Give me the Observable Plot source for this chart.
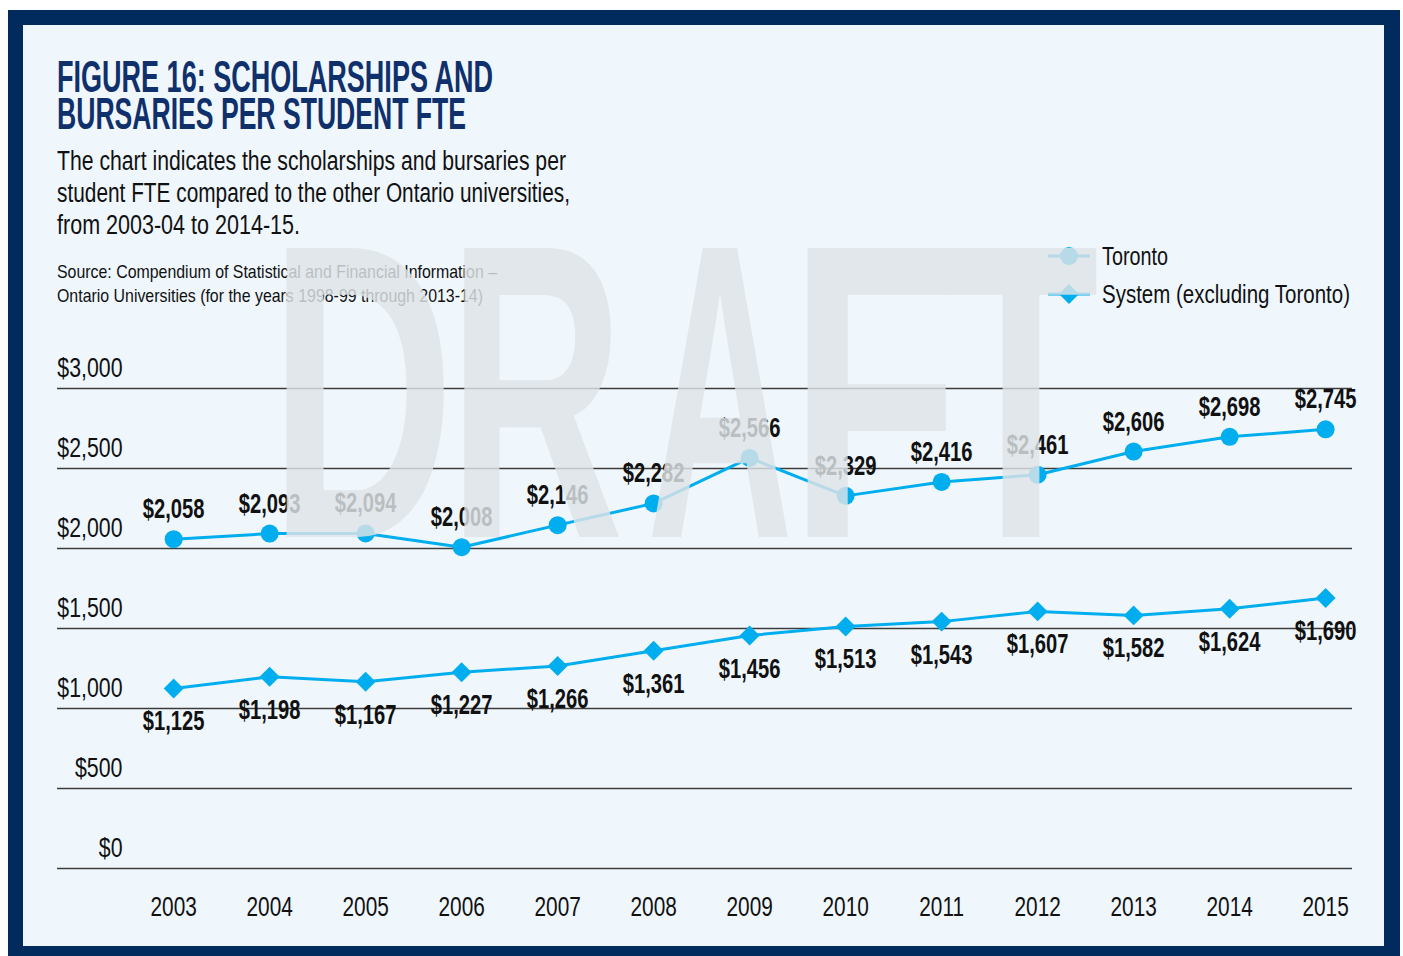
<!DOCTYPE html>
<html>
<head>
<meta charset="utf-8">
<script src="https://cdn.jsdelivr.net/npm/d3@7"></script>
<script src="https://cdn.jsdelivr.net/npm/@observablehq/plot@0.6"></script>
<style>
  html, body { margin: 0; padding: 0; background: #ffffff; }
  #page { position: relative; width: 1403px; height: 956px; overflow: hidden; background: #ffffff;
          font-family: "Liberation Sans", Arial, sans-serif; }
  #frame { position: absolute; left: 8px; top: 10px; width: 1392px; height: 960px; background: #002b5c; }
  #card { position: absolute; left: 23px; top: 25px; width: 1361px; height: 921px; background: #eff7fd; }
  #chart { position: absolute; left: 0; top: 330px; }
  svg.layer { position: absolute; left: 0; top: 0; pointer-events: none; }
</style>
</head>
<body>
<div id="page">
  <div id="frame"></div>
  <div id="card"></div>
  <svg id="header" class="layer" width="1403" height="956"></svg>
  <div id="chart"></div>
  <svg id="watermark" class="layer" width="1403" height="956"></svg>
</div>
<script>
// ---------- data ----------
const years = [2003, 2004, 2005, 2006, 2007, 2008, 2009, 2010, 2011, 2012, 2013, 2014, 2015];
const toronto = [2058, 2093, 2094, 2008, 2146, 2282, 2566, 2329, 2416, 2461, 2606, 2698, 2745];
const systemExTo = [1125, 1198, 1167, 1227, 1266, 1361, 1456, 1513, 1543, 1607, 1582, 1624, 1690];
const yTicks = [0, 500, 1000, 1500, 2000, 2500, 3000];
const seriesNames = ["Toronto", "System (excluding Toronto)"];

const titleLines = ["FIGURE 16: SCHOLARSHIPS AND", "BURSARIES PER STUDENT FTE"];
const subtitleLines = [
  "The chart indicates the scholarships and bursaries per",
  "student FTE compared to the other Ontario universities,",
  "from 2003-04 to 2014-15."
];
const sourceLines = [
  "Source: Compendium of Statistical and Financial Information \u2013",
  "Ontario Universities (for the years 1998-99 through 2013-14)"
];
const watermarkLetters = ["D", "R", "A", "F", "T"];

const blue = "#00aeef";
const FONT = '"Liberation Sans", Arial, sans-serif';
const money = v => "$" + d3.format(",")(v);

const topData = years.map((year, i) => ({year, value: toronto[i]}));
const sysData = years.map((year, i) => ({year, value: systemExTo[i]}));

// ---------- header (title, subtitle, source, legend) ----------
const NS = "http://www.w3.org/2000/svg";
const header = document.getElementById("header");
function addText(svg, str, x, y, size, opts = {}) {
  const t = document.createElementNS(NS, "text");
  t.setAttribute("x", x);
  t.setAttribute("y", y);
  t.setAttribute("font-size", size);
  t.setAttribute("font-family", FONT);
  t.setAttribute("fill", opts.fill || "#111");
  if (opts.weight) t.setAttribute("font-weight", opts.weight);
  if (opts.anchor) t.setAttribute("text-anchor", opts.anchor);
  if (opts.width) { t.setAttribute("textLength", opts.width); t.setAttribute("lengthAdjust", "spacingAndGlyphs"); }
  t.textContent = str;
  svg.appendChild(t);
  return t;
}
const titleW = [436, 409];
titleLines.forEach((s, i) => addText(header, s, 57, 92 + i * 37, 45, {weight: "bold", fill: "#10306b", width: titleW[i]}));
const subW = [509, 513, 243];
subtitleLines.forEach((s, i) => addText(header, s, 57, 170 + i * 32, 27, {width: subW[i]}));
const srcW = [440, 426];
sourceLines.forEach((s, i) => addText(header, s, 57, 278 + i * 24, 19, {width: srcW[i]}));

// legend
const legW = [66, 248];
seriesNames.forEach((name, i) => {
  const cy = 256 + i * 38;
  const ln = document.createElementNS(NS, "line");
  ln.setAttribute("x1", 1048); ln.setAttribute("x2", 1090);
  ln.setAttribute("y1", cy); ln.setAttribute("y2", cy);
  ln.setAttribute("stroke", blue); ln.setAttribute("stroke-width", 3);
  header.appendChild(ln);
  const sym = document.createElementNS(NS, "path");
  sym.setAttribute("d", d3.symbol(i === 0 ? d3.symbolCircle : d3.symbolDiamond2, Math.PI * 81)());
  sym.setAttribute("transform", `translate(1069,${cy})`);
  sym.setAttribute("fill", blue);
  header.appendChild(sym);
  addText(header, name, 1102, cy + 9, 26, {width: legW[i]});
});

// ---------- chart ----------
const chart = Plot.plot({
  width: 1403,
  height: 600,
  marginLeft: 57,
  marginRight: 51,
  marginTop: 58,
  marginBottom: 62,
  style: {background: "transparent", fontFamily: FONT, color: "#111", overflow: "visible"},
  x: {type: "linear", domain: [2001.79, 2015.28], axis: null},
  y: {domain: [0, 3000], axis: null},
  marks: [
    Plot.ruleY(yTicks, {stroke: "#3c3c3c", strokeWidth: 1.5}),
    Plot.axisY(yTicks, {anchor: "left", tickSize: 0, tickPadding: 0, dx: 65, dy: -20, fontSize: 27,
      tickFormat: money, fill: "#111", label: null, className: "ytl"}),
    Plot.axisX(years, {anchor: "bottom", tickSize: 0, tickPadding: 28, fontSize: 27,
      tickFormat: d => String(d), fill: "#111", label: null, className: "xtl"}),
    Plot.line(topData, {x: "year", y: "value", stroke: blue, strokeWidth: 3}),
    Plot.dot(topData, {x: "year", y: "value", symbol: "circle", r: 9, fill: blue}),
    Plot.line(sysData, {x: "year", y: "value", stroke: blue, strokeWidth: 3}),
    Plot.dot(sysData, {x: "year", y: "value", symbol: "diamond2", r: 9, fill: blue}),
    Plot.text(topData, {x: "year", y: "value", text: d => money(d.value), dy: -30, fontSize: 28,
      fontWeight: "bold", fill: "#111", className: "vlab"}),
    Plot.text(sysData, {x: "year", y: "value", text: d => money(d.value), dy: 33, fontSize: 28,
      fontWeight: "bold", fill: "#111", className: "vlab"})
  ]
});
document.getElementById("chart").appendChild(chart);
// condensed look: squeeze glyphs horizontally
function condense(sel, k) {
  chart.querySelectorAll(sel).forEach(t => {
    const w = t.getComputedTextLength();
    t.setAttribute("textLength", (w * k).toFixed(1));
    t.setAttribute("lengthAdjust", "spacingAndGlyphs");
  });
}
condense("g.vlab text", 0.72);
condense("g.ytl text", 0.79);
condense("g.xtl text", 0.77);

// ---------- DRAFT watermark (on top, semi-transparent) ----------
const wm = document.getElementById("watermark");
const wg = document.createElementNS(NS, "g");
wg.setAttribute("opacity", 0.82);
wm.appendChild(wg);
const wmCenters = [362, 536, 720, 874, 1021];
const wmLengths = [185, 176, 146, 170, 156];
watermarkLetters.forEach((ch, i) =>
  addText(wg, ch, wmCenters[i], 537, 420, {weight: "bold", fill: "rgb(223,228,231)", anchor: "middle", width: wmLengths[i]}));
</script>
</body>
</html>
